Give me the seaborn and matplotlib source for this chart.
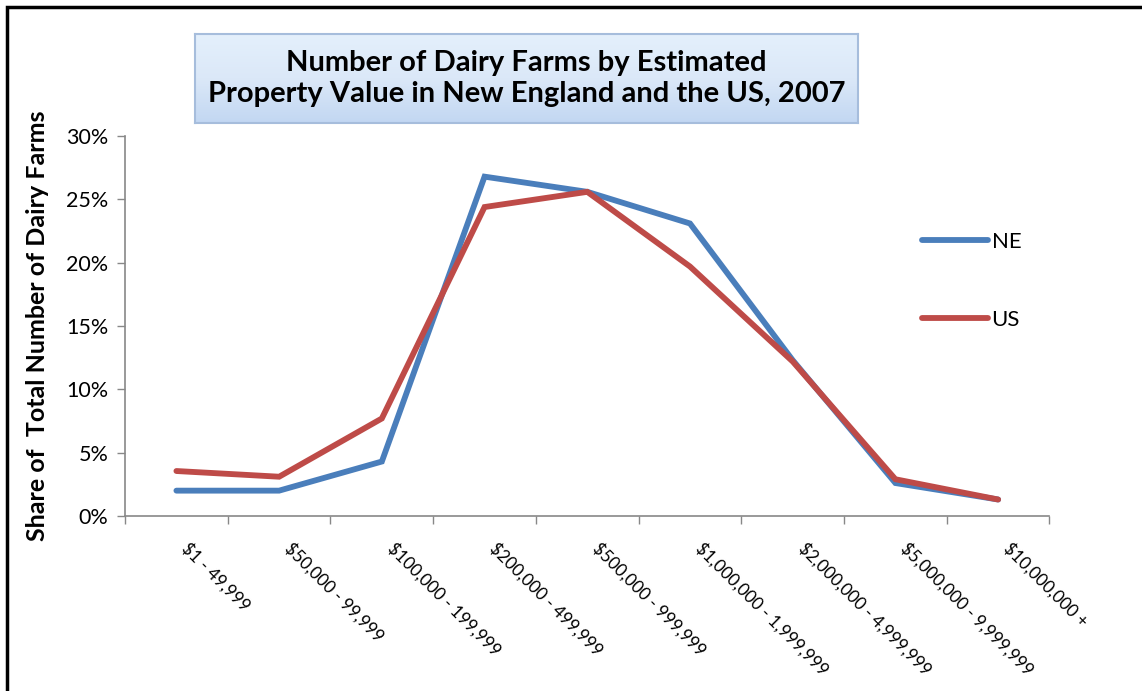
import numpy as np
import pandas as pd
import matplotlib
matplotlib.use("Agg")
import matplotlib.pyplot as plt
from matplotlib.patches import Rectangle
import seaborn as sns

# Data (share of farms, %)
categories = ["$1 - 49,999", "$50,000 - 99,999", "$100,000 - 199,999",
              "$200,000 - 499,999", "$500,000 - 999,999", "$1,000,000 - 1,999,999",
              "$2,000,000 - 4,999,999", "$5,000,000 - 9,999,999", "$10,000,000 +"]
ne_share = [2.0, 2.0, 4.3, 26.8, 25.6, 23.1, 12.3, 2.6, 1.3]
us_share = [3.55, 3.1, 7.7, 24.4, 25.6, 19.7, 12.2, 2.9, 1.3]

df = pd.DataFrame({
    "category": categories * 2,
    "share": ne_share + us_share,
    "region": ["NE"] * len(categories) + ["US"] * len(categories),
})
df["pos"] = df["category"].map({c: i for i, c in enumerate(categories)})

sns.set_theme(style="white")
plt.rcParams["font.family"] = ["Lato", "DejaVu Sans"]
plt.rcParams["text.color"] = "black"
plt.rcParams["axes.labelcolor"] = "black"
plt.rcParams["xtick.labelcolor"] = "black"
plt.rcParams["ytick.labelcolor"] = "black"

fig = plt.figure(figsize=(11.42, 6.91), dpi=100)
ax = fig.add_axes([0.1095, 0.2533, 0.8095, 0.5497])

palette = {"NE": "#4a7ebb", "US": "#be4b48"}
sns.lineplot(data=df, x="pos", y="share", hue="region", palette=palette,
             linewidth=4.2, ax=ax, sort=False)
for ln in ax.get_lines():
    ln.set_solid_capstyle("round")
    ln.set_solid_joinstyle("miter")

ax.set_xlim(-0.5, len(categories) - 0.5)
ax.set_ylim(0, 30)
ax.set_yticks(range(0, 31, 5))
ax.set_yticklabels([f"{v}%" for v in range(0, 31, 5)], fontsize=15.5)
ax.set_xticks(np.arange(len(categories)) + 0.14)
ax.set_xticklabels(categories, rotation=-45, ha="left", va="top",
                   rotation_mode="anchor", fontsize=12.3)
ax.set_xticks(np.arange(-0.5, len(categories), 1.0), minor=True)
ax.tick_params(axis="x", which="major", length=0, pad=17)
ax.tick_params(axis="x", which="minor", length=6, width=1, color="#888888",
               direction="out", bottom=True)
ax.tick_params(axis="y", length=6, width=1, color="#888888", direction="out",
               left=True, pad=6)

for s in ["top", "right"]:
    ax.spines[s].set_visible(False)
for s in ["left", "bottom"]:
    ax.spines[s].set_color("#888888")
    ax.spines[s].set_linewidth(1.2)

ax.set_xlabel("")
ax.set_ylabel("Share of  Total Number of Dairy Farms", fontsize=18,
              fontweight="bold", labelpad=12)

leg = ax.legend(loc="upper left", bbox_to_anchor=(0.84, 0.8), frameon=False,
                fontsize=16, handlelength=3.0, handletextpad=0.15,
                labelspacing=2.6)
for h in leg.get_lines():
    h.set_linewidth(4.2)
    h.set_solid_capstyle("round")

# Title box with gradient fill
tax = fig.add_axes([195 / 1142, 1 - 123 / 691, (858 - 195) / 1142, (123 - 34) / 691])
grad = np.linspace(0, 1, 256).reshape(-1, 1)
cmap = matplotlib.colors.LinearSegmentedColormap.from_list(
    "tb", ["#e4f0fc", "#dbe8f8", "#c2d7f2"])
tax.imshow(grad, aspect="auto", cmap=cmap, extent=[0, 1, 0, 1], origin="upper")
tax.set_xlim(0, 1)
tax.set_ylim(0, 1)
tax.set_xticks([])
tax.set_yticks([])
for s in tax.spines.values():
    s.set_color("#a6bddc")
    s.set_linewidth(1.5)
tax.text(0.5, 0.5, "Number of Dairy Farms by Estimated\nProperty Value in New England and the US, 2007",
         ha="center", va="center", fontsize=21, fontweight="bold",
         linespacing=1.2, transform=tax.transAxes)

# outer black frame (left and top visible)
fig.patches.append(Rectangle((7 / 1142, -0.2), 1.2, 1.2 - 7 / 691,
                             transform=fig.transFigure, fill=False,
                             edgecolor="black", linewidth=2.5))

fig.savefig("out.png", dpi=100)
